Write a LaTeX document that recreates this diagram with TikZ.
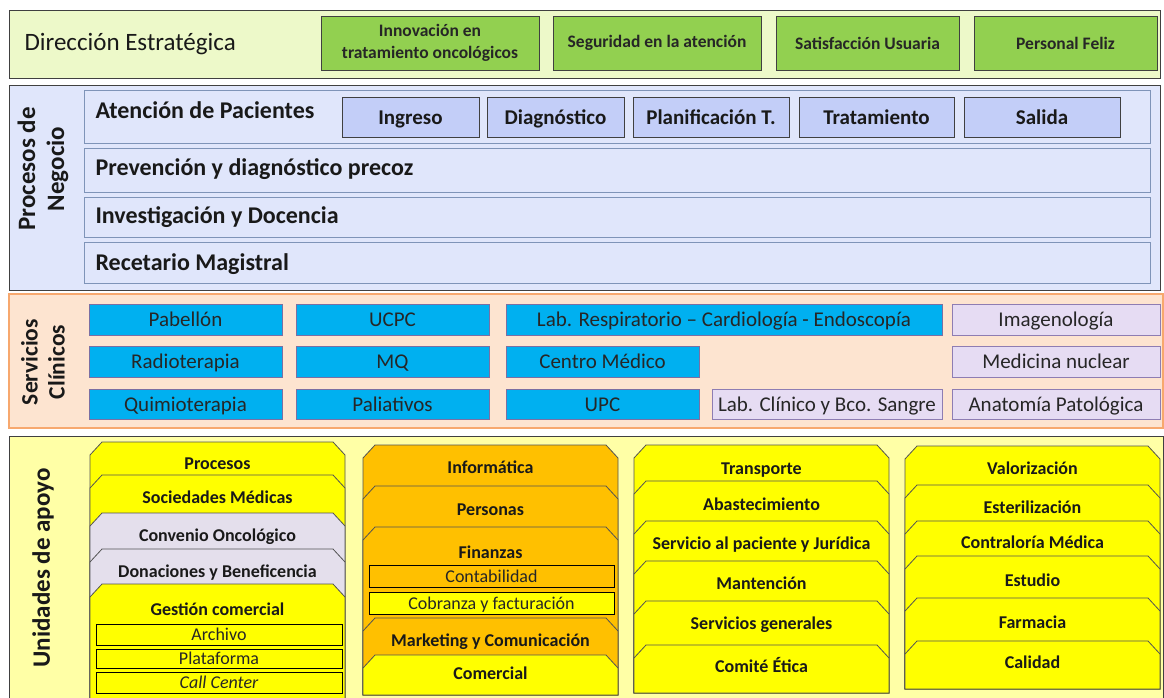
\documentclass[tikz,border=0pt]{standalone}
\usepackage{fontspec}
\setmainfont{Carlito}
\definecolor{dirfill}{HTML}{EDF9C9}
\definecolor{goalfill}{HTML}{92D050}
\definecolor{procfill}{HTML}{E0E6FB}
\definecolor{procline}{HTML}{7F94B8}
\definecolor{stepfill}{HTML}{C3CEF8}
\definecolor{clinfill}{HTML}{FDE4D0}
\definecolor{clinline}{HTML}{F7A86E}
\definecolor{cyanfill}{HTML}{00B0F0}
\definecolor{cyanline}{HTML}{7B6FA3}
\definecolor{lavfill}{HTML}{E6DCF3}
\definecolor{lavline}{HTML}{8E7DB3}
\definecolor{supfill}{HTML}{FFFFA6}
\definecolor{yel}{HTML}{FFFF00}
\definecolor{orng}{HTML}{FFC000}
\definecolor{grayl}{HTML}{E4DFEC}
\definecolor{frame}{HTML}{404040}
\newcommand\fs[1]{\fontsize{#1}{\dimexpr #1pt*6/5\relax}\selectfont}
% box from corner (x1,y1) to (x2,y2): name, style, x1, y1, x2, y2, text
\newcommand\pbox[7]{%
  \pgfmathsetmacro\myW{#5-#3}\pgfmathsetmacro\myH{#6-#4}%
  \node[#2, minimum width=\myW pt, minimum height=\myH pt, inner sep=0pt]
    (#1) at ({(#3+#5)/2},{(#4+#6)/2}) {#7};}
% tab with chamfered top corners: x1, x2, top, bottom, fill
\newcommand\tabblk[5]{%
  \draw[tabline, fill=#5] (#1,#3+13) -- (#1+12,#3) -- (#2-12,#3) -- (#2,#3+13)
    -- (#2,#4) -- (#1,#4) -- cycle;}
\begin{document}
\begin{tikzpicture}[x=1pt,y=-1pt,
  evenL/.style={text height=17pt, text depth=3pt},
  evenS/.style={text height=14.5pt, text depth=2pt},
  bandbox/.style={draw=frame, line width=1pt},
  goal/.style={draw=frame, fill=goalfill, line width=0.9pt, align=center,
    font=\fontsize{17.5}{21.5}\selectfont\bfseries, text=black!85},
  prow/.style={draw=procline, fill=procfill, line width=1pt},
  pstep/.style={evenL, draw=frame, fill=stepfill, line width=0.9pt, font=\fs{21}\bfseries, text=black!90},
  ptitle/.style={anchor=west, font=\fs{24}\bfseries, text=black!90},
  cyanbox/.style={evenL, draw=cyanline, fill=cyanfill, line width=0.9pt, font=\fs{21}, text=black!85},
  lavbox/.style={evenL, draw=lavline, fill=lavfill, line width=0.9pt, font=\fs{21}, text=black!85},
  sidelabel/.style={rotate=90, align=center, font=\fontsize{25}{29}\selectfont\bfseries, text=black!90},
  tabline/.style={draw=frame!90, line width=0.8pt},
  tabtxt/.style={evenS, font=\fs{18}\bfseries, text=black!90},
  subbox/.style={evenS, draw=black, line width=0.8pt, font=\fs{18}, text=black!85},
]
\useasboundingbox (0,0) rectangle (1164,697);
\fill[white] (0,0) rectangle (1164,697);

% ---- Dirección Estratégica ----
\pbox{dir}{bandbox, fill=dirfill}{9}{10}{1160}{78}{}
\node[anchor=west, font=\fs{25}, text=black!90] (dirlbl) at (21,44) {Dirección Estratégica};
\pbox{g1}{goal}{321}{16}{539}{70}{Innovación en\\tratamiento oncológicos}
\pbox{g2}{goal}{553}{16}{761}{70}{Seguridad en la atención}
\pbox{g3}{goal}{776}{16}{959}{70}{Satisfacción Usuaria}
\pbox{g4}{goal}{974}{16}{1157}{70}{Personal Feliz}

% ---- Procesos de Negocio ----
\pbox{proc}{bandbox, fill=procfill}{9}{85}{1160}{290}{}
\node[sidelabel] (proclbl) at (43,169) {Procesos de\\Negocio};
\pbox{r1}{prow}{84}{90}{1150}{143}{}
\pbox{r2}{prow}{84}{148}{1150}{192}{}
\pbox{r3}{prow}{84}{197}{1150}{237}{}
\pbox{r4}{prow}{84}{242}{1150}{283}{}
\node[ptitle] (t1) at (92,110) {Atención de Pacientes};
\node[ptitle] (t2) at (92,169) {Prevención y diagnóstico precoz};
\node[ptitle] (t3) at (92,217) {Investigación y Docencia};
\node[ptitle] (t4) at (92,264) {Recetario Magistral};
\pbox{s1}{pstep}{342}{97}{479}{137}{Ingreso}
\pbox{s2}{pstep}{487}{97}{624}{137}{Diagnóstico}
\pbox{s3}{pstep}{633}{97}{789}{137}{Planificación T.}
\pbox{s4}{pstep}{799}{97}{954}{137}{Tratamiento}
\pbox{s5}{pstep}{964}{97}{1120}{137}{Salida}

% ---- Servicios Clínicos ----
\pbox{clin}{draw=clinline, fill=clinfill, line width=1.2pt}{9}{294}{1163}{428}{}
\node[sidelabel, font=\fontsize{23.5}{27}\selectfont\bfseries] (clinlbl) at (43,362) {Servicios\\Clínicos};
\pbox{c11}{cyanbox}{89}{304}{282}{335}{Pabellón}
\pbox{c12}{cyanbox}{296}{304}{489}{335}{UCPC}
\pbox{c13}{cyanbox}{506}{304}{942}{335}{Lab. Respiratorio -- Cardiología - Endoscopía}
\pbox{c14}{lavbox}{952}{304}{1160}{335}{Imagenología}
\pbox{c21}{cyanbox}{89}{346}{282}{377}{Radioterapia}
\pbox{c22}{cyanbox}{296}{346}{489}{377}{MQ}
\pbox{c23}{cyanbox}{506}{346}{699}{377}{Centro Médico}
\pbox{c24}{lavbox}{952}{346}{1160}{377}{Medicina nuclear}
\pbox{c31}{cyanbox}{89}{389}{282}{419}{Quimioterapia}
\pbox{c32}{cyanbox}{296}{389}{489}{419}{Paliativos}
\pbox{c33}{cyanbox}{506}{389}{699}{419}{UPC}
\pbox{c34}{lavbox}{712}{389}{942}{419}{Lab. Clínico y Bco. Sangre}
\pbox{c35}{lavbox}{952}{389}{1160}{419}{Anatomía Patológica}

% ---- Unidades de apoyo ----
\draw[bandbox, fill=supfill] (9,436) rectangle (1163,705);
\node[sidelabel] (suplbl) at (43,568) {Unidades de apoyo};

% column 1
\tabblk{90}{345}{442}{705}{yel}
\tabblk{90}{345}{475}{705}{yel}
\tabblk{90}{345}{513}{705}{grayl}
\tabblk{90}{345}{549}{705}{grayl}
\tabblk{90}{345}{584}{705}{yel}
\node[tabtxt] (a1) at (217.5,463) {Procesos};
\node[tabtxt] (a2) at (217.5,497) {Sociedades Médicas};
\node[tabtxt] (a3) at (217.5,535) {Convenio Oncológico};
\node[tabtxt] (a4) at (217.5,571) {Donaciones y Beneficencia};
\node[tabtxt] (a5) at (217.5,609) {Gestión comercial};
\pbox{a51}{subbox, fill=yel}{96}{624}{342}{645}{Archivo}
\pbox{a52}{subbox, fill=yel}{96}{649}{342}{668}{Plataforma}
\pbox{a53}{subbox, fill=yel}{96}{672}{342}{693}{\itshape Call Center}

% column 2
\tabblk{363}{618}{445}{695}{orng}
\tabblk{363}{618}{486}{695}{orng}
\tabblk{363}{618}{527}{695}{orng}
\tabblk{363}{618}{618}{695}{orng}
\tabblk{363}{618}{655}{695}{yel}
\node[tabtxt] (b1) at (490.5,467) {Informática};
\node[tabtxt] (b2) at (490.5,509) {Personas};
\node[tabtxt] (b3) at (490.5,552) {Finanzas};
\pbox{b31}{subbox, fill=orng}{369}{565}{614}{587}{Contabilidad}
\pbox{b32}{subbox, fill=yel}{369}{592}{614}{614}{Cobranza y facturación}
\node[tabtxt] (b4) at (490.5,640) {Marketing y Comunicación};
\node[tabtxt] (b5) at (490.5,673) {Comercial};

% column 3
\tabblk{634}{889}{445}{693}{yel}
\tabblk{634}{889}{481}{693}{yel}
\tabblk{634}{889}{521}{693}{yel}
\tabblk{634}{889}{561}{693}{yel}
\tabblk{634}{889}{601}{693}{yel}
\tabblk{634}{889}{645}{693}{yel}
\node[tabtxt] (d1) at (761.5,468) {Transporte};
\node[tabtxt] (d2) at (761.5,504) {Abastecimiento};
\node[tabtxt] (d3) at (761.5,543) {Servicio al paciente y Jurídica};
\node[tabtxt] (d4) at (761.5,583) {Mantención};
\node[tabtxt] (d5) at (761.5,623) {Servicios generales};
\node[tabtxt] (d6) at (761.5,666) {Comité Ética};

% column 4
\tabblk{905}{1160}{446}{689}{yel}
\tabblk{905}{1160}{485}{689}{yel}
\tabblk{905}{1160}{521}{689}{yel}
\tabblk{905}{1160}{556}{689}{yel}
\tabblk{905}{1160}{598}{689}{yel}
\tabblk{905}{1160}{641}{689}{yel}
\node[tabtxt] (e1) at (1032.5,468) {Valorización};
\node[tabtxt] (e2) at (1032.5,507) {Esterilización};
\node[tabtxt] (e3) at (1032.5,542) {Contraloría Médica};
\node[tabtxt] (e4) at (1032.5,580) {Estudio};
\node[tabtxt] (e5) at (1032.5,622) {Farmacia};
\node[tabtxt] (e6) at (1032.5,662) {Calidad};
\end{tikzpicture}
\end{document}
